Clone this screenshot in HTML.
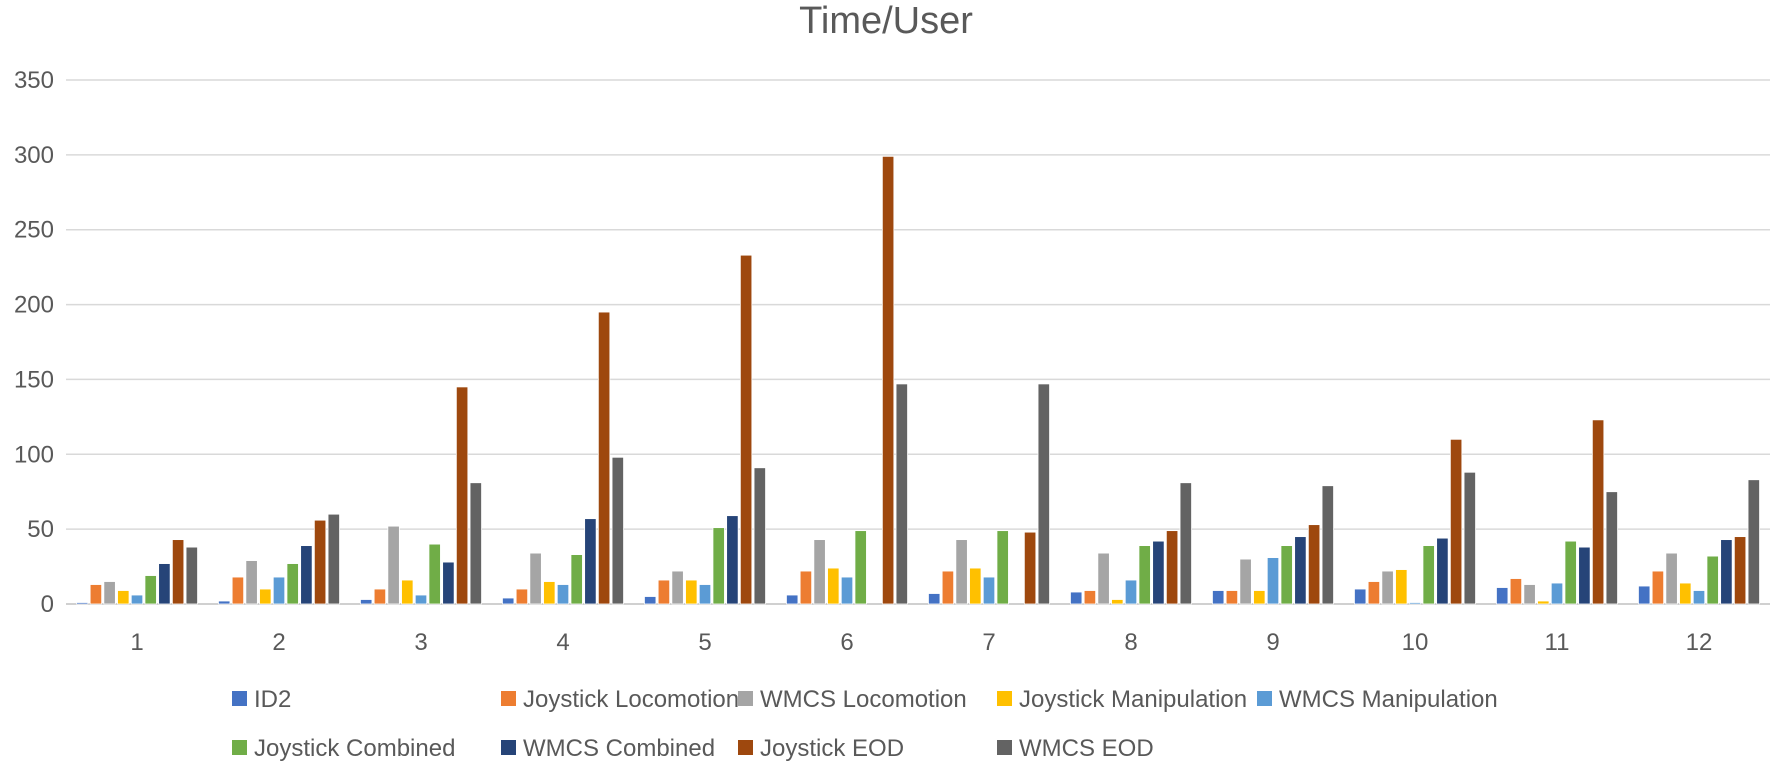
<!DOCTYPE html>
<html><head><meta charset="utf-8"><style>
body{margin:0;background:#fff;}
svg text{font-family:"Liberation Sans",sans-serif;fill:#595959;}
</style></head><body>
<svg id="chart" width="1772" height="762">
<text x="886" y="33" font-size="38" text-anchor="middle">Time/User</text>
<g id="grid"></g><g id="bars"></g><g id="legend"></g>
</svg>
<script>
const categories=["1","2","3","4","5","6","7","8","9","10","11","12"];
const seriesNames=["ID2","Joystick Locomotion","WMCS Locomotion","Joystick Manipulation","WMCS Manipulation","Joystick Combined","WMCS Combined","Joystick EOD","WMCS EOD"];
const id2=[1,2,3,4,5,6,7,8,9,10,11,12];
const joyLoco=[13,18,10,10,16,22,22,9,9,15,17,22];
const wmcsLoco=[15,29,52,34,22,43,43,34,30,22,13,34];
const joyManip=[9,10,16,15,16,24,24,3,9,23,2,14];
const wmcsManip=[6,18,6,13,13,18,18,16,31,1,14,9];
const joyComb=[19,27,40,33,51,49,49,39,39,39,42,32];
const wmcsComb=[27,39,28,57,59,0,0,42,45,44,38,43];
const joyEOD=[43,56,145,195,233,299,48,49,53,110,123,45];
const wmcsEOD=[38,60,81,98,91,147,147,81,79,88,75,83];
const yTicks=[0,50,100,150,200,250,300,350];
const series=[id2,joyLoco,wmcsLoco,joyManip,wmcsManip,joyComb,wmcsComb,joyEOD,wmcsEOD];
const colors=["#4472C4","#ED7D31","#A5A5A5","#FFC000","#5B9BD5","#70AD47","#264478","#9E480E","#636363"];
const NS="http://www.w3.org/2000/svg";
const L=66,R=1770,Y0=604,Ytop=80;
const y=v=>Y0-(v/350)*(Y0-Ytop);
const cw=(R-L)/categories.length;
const x=i=>L+cw*i+cw/2;
function mk(t,a){const e=document.createElementNS(NS,t);for(const k in a)e.setAttribute(k,a[k]);return e;}
const grid=document.getElementById('grid');
yTicks.forEach(v=>{
 const ln=mk('line',{x1:L,x2:R,y1:y(v),y2:y(v),stroke:v===0?'#d0d0d0':'#d9d9d9','stroke-width':v===0?2:1.5});
 
 
 grid.appendChild(ln);
 const t=mk('text',{x:54,y:y(v)+8,'font-size':24,'text-anchor':'end'});t.textContent=v;
 
 
 grid.appendChild(t);
});
categories.forEach((c,i)=>{
 const t=mk('text',{x:x(i),y:650,'font-size':24,'text-anchor':'middle'});t.textContent=c;
 
 
 grid.appendChild(t);
});
const bars=document.getElementById('bars');
const pitch=13.7,bw=11.5;
series.forEach((s,si)=>{
 s.forEach((v,i)=>{
  if(v<=0)return;
  const bx=x(i)+(si-4)*pitch-bw/2;
  const r=mk('rect',{x:bx,y:y(v),width:bw,height:Y0-y(v),fill:colors[si],stroke:'#fff','stroke-width':0.8});
  
  
  bars.appendChild(r);
 });
});
const legend=document.getElementById('legend');
const lposFix=[[232,699],[501,699],[738,699],[997,699],[1257,699],[232,748],[501,748],[738,748],[997,748]];
seriesNames.forEach((n,i)=>{
 const g=mk('g',{});
 
 
 const [lx,ly]=lposFix[i];
 g.appendChild(mk('rect',{x:lx,y:ly-8,width:15,height:15,fill:colors[i]}));
 const t=mk('text',{x:lx+22,y:ly+8,'font-size':24});t.textContent=n;
 g.appendChild(t);
 legend.appendChild(g);
});
</script>
</body></html>
